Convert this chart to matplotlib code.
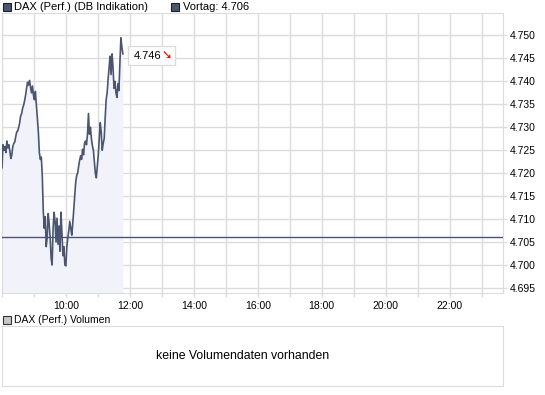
import numpy as np
import matplotlib
matplotlib.use("Agg")
import matplotlib.pyplot as plt
from matplotlib.patches import Rectangle
from matplotlib.ticker import MultipleLocator, FuncFormatter
from matplotlib.transforms import ScaledTranslation

# --- data ---
prices = [
    4.7212, 4.7262, 4.7250, 4.7258, 4.7245, 4.7270, 4.7255, 4.7262, 4.7248, 4.7232,
    4.7240, 4.7258, 4.7265, 4.7268, 4.7280, 4.7290, 4.7292, 4.7300, 4.7310, 4.7325,
    4.7330, 4.7342, 4.7348, 4.7358, 4.7370, 4.7385, 4.7398, 4.7392, 4.7402, 4.7388,
    4.7375, 4.7390, 4.7370, 4.7360, 4.7378, 4.7348, 4.7320, 4.7290, 4.7245, 4.7230,
    4.7235, 4.7195, 4.7118, 4.7080, 4.7105, 4.7040, 4.7060, 4.7112, 4.7090, 4.7060,
    4.7015, 4.7000, 4.7080, 4.7115, 4.7095, 4.7050, 4.7102, 4.7045, 4.7085, 4.7030,
    4.7115, 4.7070, 4.7020, 4.7040, 4.7000, 4.6998, 4.7040, 4.7060, 4.7075, 4.7095,
    4.7080, 4.7065, 4.7090, 4.7120, 4.7150, 4.7180, 4.7195, 4.7200, 4.7215, 4.7228,
    4.7238, 4.7230, 4.7252, 4.7240, 4.7265, 4.7270, 4.7262, 4.7285, 4.7330, 4.7285,
    4.7300, 4.7275, 4.7260, 4.7250, 4.7225, 4.7200, 4.7190, 4.7215, 4.7240, 4.7275,
    4.7310, 4.7290, 4.7250, 4.7265, 4.7275, 4.7320, 4.7360, 4.7375, 4.7405, 4.7430,
    4.7455, 4.7415, 4.7460, 4.7430, 4.7385, 4.7400, 4.7375, 4.7365, 4.7395, 4.7380,
    4.7440, 4.7495, 4.7475, 4.7460,
]
session_start = 8.0     # hours
session_last = 11.78    # time of last quote (hours)
prev_close = 4.706
last_label = "4.746"
series_name = "DAX (Perf.) (DB Indikation)"
prev_label = "Vortag: 4.706"
volume_name = "DAX (Perf.) Volumen"
volume_note = "keine Volumendaten vorhanden"

times = np.linspace(session_start, session_last, len(prices))

LINE = "#4a5570"
FILL = "#f2f3fa"
GRID = "#dcdcdc"
FONT = "Liberation Sans"
FS = 7.5

W, H = 545, 395
fig = plt.figure(figsize=(W / 100, H / 100), dpi=100)
fig.patch.set_facecolor("white")

def px_axes(x0, y0, x1, y1):
    return fig.add_axes([x0 / W, 1 - y1 / H, (x1 - x0) / W, (y1 - y0) / H])

# --- price panel ---
ax = px_axes(2, 13, 503, 293)
ax.fill_between(times, prices, 4.6939, color=FILL, lw=0, zorder=1)
ax.plot(times, prices, color=LINE, lw=1.2, zorder=3)
ax.axhline(prev_close, color=LINE, lw=1.0, zorder=3)

ax.set_xlim(8.0, 23.67)
ax.set_ylim(4.6939, 4.7549)
ax.xaxis.set_major_locator(MultipleLocator(1))
ax.xaxis.set_major_formatter(
    FuncFormatter(lambda v, p: f"{int(round(v)):02d}:00" if int(round(v)) % 2 == 0 and v >= 9.5 else ""))
ax.yaxis.set_major_locator(MultipleLocator(0.005))
ax.yaxis.set_major_formatter(FuncFormatter(lambda v, p: f"{v:.3f}"))
ax.yaxis.tick_right()
ax.grid(True, color=GRID, lw=1.0, zorder=0)
ax.set_axisbelow(True)
ax.tick_params(axis="both", colors=GRID, length=3, width=1, labelsize=FS,
               labelcolor="black", labelfontfamily=FONT)
ax.tick_params(axis="y", pad=2)
ax.tick_params(axis="x", pad=3)
for s in ax.spines.values():
    s.set_color(GRID)

# last-price box with red arrow (box sized in inches, anchored at the last quote)
anchor = fig.dpi_scale_trans + ScaledTranslation(times[-1], prices[-1], ax.transData)
box = Rectangle((0.05, -0.115), 0.47, 0.19, transform=anchor,
                fc="white", ec=GRID, lw=1, zorder=5, clip_on=False)
ax.add_artist(box)
ax.annotate(last_label, xy=(times[-1], prices[-1]), xytext=(7.5, -1.2),
            textcoords="offset points", va="center", ha="left",
            fontsize=FS + 0.5, family=FONT, color="black", zorder=6)
ax.annotate("\u2798", xy=(times[-1], prices[-1]), xytext=(28, -1.6),
            textcoords="offset points", va="center", ha="left",
            fontsize=FS + 1.5, family="DejaVu Sans", color="red", zorder=6)

# --- header legend ---
fig.patches.append(Rectangle((3 / W, 1 - 11 / H), 8 / W, 8 / H, transform=fig.transFigure,
                             fc=LINE, ec="#222222", lw=0.8))
fig.text(14 / W, 1 - 7 / H, series_name, fontsize=FS + 0.5, family=FONT, va="center")
fig.patches.append(Rectangle((171 / W, 1 - 11 / H), 8 / W, 8 / H, transform=fig.transFigure,
                             fc=LINE, ec="#222222", lw=0.8))
fig.text(183 / W, 1 - 7 / H, prev_label, fontsize=FS + 0.5, family=FONT, va="center")

# --- volume panel ---
fig.patches.append(Rectangle((3 / W, 1 - 324 / H), 8 / W, 8 / H, transform=fig.transFigure,
                             fc="#c8c8c8", ec="#333333", lw=0.8))
fig.text(14 / W, 1 - 320 / H, volume_name, fontsize=FS, family=FONT, va="center")
vax = px_axes(2, 326, 503, 386)
vax.set_xticks([])
vax.set_yticks([])
for s in vax.spines.values():
    s.set_color(GRID)
vax.text(0.48, 0.5, volume_note, transform=vax.transAxes, ha="center", va="center",
         fontsize=FS + 1.3, family=FONT)

fig.savefig("out.png", dpi=100)
